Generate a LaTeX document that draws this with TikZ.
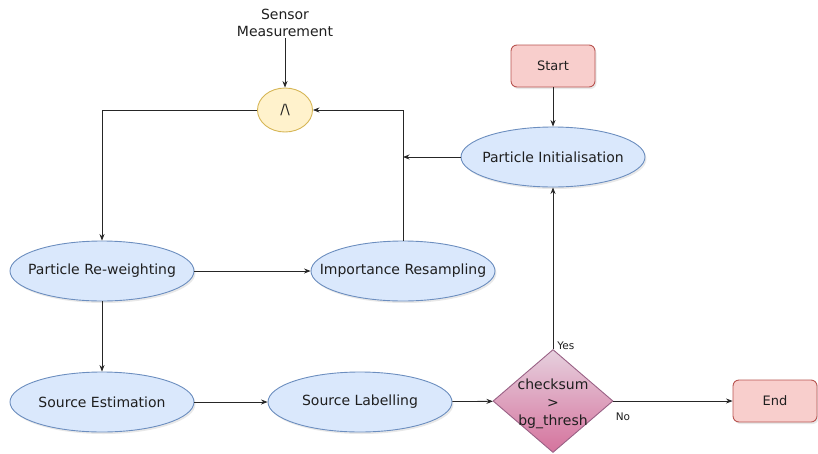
\documentclass[tikz,border=0pt]{standalone}
\usepackage{fontspec}
\setmainfont{DejaVu Sans}
\usetikzlibrary{arrows.meta,positioning,shapes.geometric,shadows}
\definecolor{stepfill}{HTML}{DAE8FC}
\definecolor{stepline}{HTML}{6C8EBF}
\definecolor{termfill}{HTML}{F8CECC}
\definecolor{termline}{HTML}{B85450}
\definecolor{gatefill}{HTML}{FFF2CC}
\definecolor{gateline}{HTML}{D6B656}
\definecolor{testtop}{HTML}{E6D0DE}
\definecolor{testbot}{HTML}{D5739D}
\definecolor{testline}{HTML}{996185}
\definecolor{wire}{HTML}{262626}

\begin{document}
\begin{tikzpicture}[x=1pt, y=-1pt, every node/.style={font=\fontsize{14}{17}\selectfont, text=black!88}, stepnode/.style={ellipse,draw=stepline,line width=0.9pt,fill=stepfill,minimum width=184pt,minimum height=60pt,inner xsep=-30pt,inner ysep=0pt,drop shadow={opacity=0.18,shadow xshift=1.5pt,shadow yshift=-2pt}}, term/.style={draw=termline,line width=0.9pt,fill=termfill,rounded corners=6pt,minimum width=84pt,minimum height=42pt,inner sep=0pt,font=\fontsize{13}{16}\selectfont,drop shadow={opacity=0.18,shadow xshift=1.5pt,shadow yshift=-2pt}}, decision/.style={diamond,draw=testline,line width=0.9pt,top color=testtop,bottom color=testbot,minimum width=120pt,minimum height=103pt,inner sep=0pt}, tag/.style={font=\fontsize{10.5}{12}\selectfont,inner sep=1pt}, wire/.style={draw=wire,line width=0.8pt}, >={Stealth[length=6.5pt,width=5pt]}]
\useasboundingbox (0,0) rectangle (818,453);
\node[align=center,inner sep=1pt] (sensor) at (285,23) {Sensor\\Measurement};
\node[ellipse,draw=gateline,line width=0.9pt,fill=gatefill,minimum width=55pt,minimum height=44pt,inner sep=0pt] (gate) at (285,110) {/\textbackslash};
\node[term] (start) at (553,66) {Start};
\node[stepnode] (init) at (553,157) {Particle Initialisation};
\node[stepnode] (reweight) at (102,271) {Particle Re-weighting};
\node[stepnode] (resample) at (403,271) {Importance Resampling};
\node[stepnode] (estimate) at (102,402) {Source Estimation};
\node[stepnode] (labelling) at (360,402) {Source Labelling};
\node[decision,label={[align=center,font=\fontsize{14}{18}\selectfont,yshift=-3pt]center:checksum\\>\\bg\_thresh}] (check) at (553,401) {};
\node[term] (finish) at (775,401) {End};
\foreach \a/\b in {sensor/gate,start/init,reweight/resample,reweight/estimate,estimate/labelling,labelling/check} \draw[wire,->] (\a)--(\b);
\draw[wire,->] (gate.west) -| (reweight.north);
\draw[wire,->] (resample.north) |- (gate.east);
\coordinate (merge) at (init.west -| resample.north);
\draw[wire,->] (init.west) -- (merge);
\draw[wire,->] (check.north) -- (init.south) node[tag,pos=0,anchor=base west,xshift=3pt]{Yes};
\draw[wire,->] (check.east) -- (finish.west) node[tag,pos=0,anchor=base west,xshift=1pt,yshift=-19pt]{No};
\end{tikzpicture}
\end{document}
